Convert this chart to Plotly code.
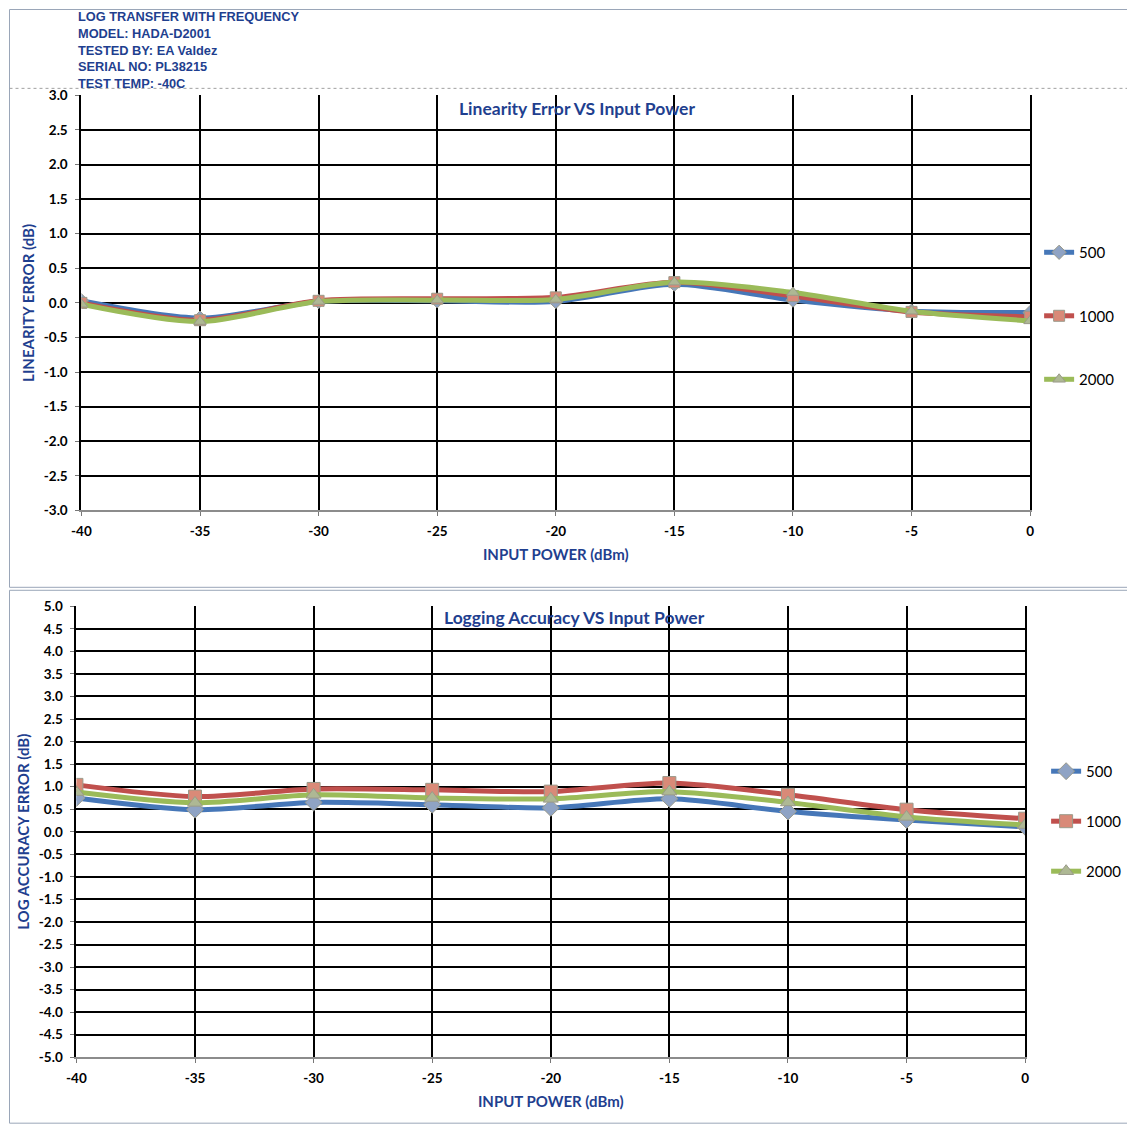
import plotly.graph_objects as go

# ---- data ----
input_power = [-40, -35, -30, -25, -20, -15, -10, -5, 0]
x_ticks = [-40, -35, -30, -25, -20, -15, -10, -5, 0]
lin_y_ticks = [3.0, 2.5, 2.0, 1.5, 1.0, 0.5, 0.0, -0.5, -1.0, -1.5, -2.0, -2.5, -3.0]
log_y_ticks = [5.0, 4.5, 4.0, 3.5, 3.0, 2.5, 2.0, 1.5, 1.0, 0.5, 0.0, -0.5, -1.0, -1.5,
               -2.0, -2.5, -3.0, -3.5, -4.0, -4.5, -5.0]

lin_500 = [0.03, -0.22, 0.02, 0.03, 0.02, 0.27, 0.04, -0.12, -0.14]
lin_1000 = [0.00, -0.25, 0.03, 0.06, 0.08, 0.30, 0.10, -0.13, -0.20]
lin_2000 = [-0.02, -0.27, 0.02, 0.04, 0.05, 0.30, 0.15, -0.12, -0.26]

log_500 = [0.75, 0.49, 0.65, 0.60, 0.53, 0.73, 0.45, 0.26, 0.11]
log_1000 = [1.04, 0.78, 0.95, 0.93, 0.89, 1.08, 0.82, 0.49, 0.29]
log_2000 = [0.88, 0.64, 0.82, 0.75, 0.73, 0.89, 0.65, 0.33, 0.15]

series_names = ["500", "1000", "2000"]
header_lines = ["LOG TRANSFER WITH FREQUENCY", "MODEL: HADA-D2001", "TESTED BY: EA Valdez",
                "SERIAL NO: PL38215", "TEST TEMP: -40C"]

W, H = 1135, 1137
# map target picture coordinates to paper fractions (empirical page offset/scale)
AX, SX = 16.5, 0.989
AY, SY = 14.5, 0.988
def px(t): return ((t - AX) / SX) / W
def py(t): return 1 - ((t - AY) / SY) / H

line_colors = ["#4677B8", "#C0504D", "#9BBB59"]
marker_colors = ["#8FA3C4", "#D98A78", "#AEB894"]
marker_symbols = ["diamond", "square", "triangle-up"]

BLUE_TXT = "#1F3F8F"
fig = go.Figure()

for i, (name, ys) in enumerate(zip(series_names, [lin_500, lin_1000, lin_2000])):
    fig.add_trace(go.Scatter(
        x=input_power, y=ys, name=name, mode="lines+markers",
        line=dict(color=line_colors[i], width=5, shape="spline", smoothing=0.8),
        marker=dict(symbol=marker_symbols[i], size=11, color=marker_colors[i],
                    line=dict(color="#9A9A8A", width=1)),
        xaxis="x", yaxis="y", legend="legend", legendgroup="a" + name))

for i, (name, ys) in enumerate(zip(series_names, [log_500, log_1000, log_2000])):
    fig.add_trace(go.Scatter(
        x=input_power, y=ys, name=name, mode="lines+markers",
        line=dict(color=line_colors[i], width=5, shape="spline", smoothing=0.8),
        marker=dict(symbol=marker_symbols[i], size=13, color=marker_colors[i],
                    line=dict(color="#9A9A8A", width=1)),
        xaxis="x2", yaxis="y2", legend="legend2", legendgroup="b" + name))

tickfont = dict(family="Lato, Open Sans", size=13.5, color="black", weight="bold")
titlefont = dict(family="Lato, Open Sans", size=15, color=BLUE_TXT, weight="bold")

def fmt(v):
    return f"{v:.1f}"

def xaxis(domain, anchor):
    return dict(domain=domain, anchor=anchor, range=[-40, 0], tickvals=x_ticks,
                ticktext=[str(v) for v in x_ticks],
                showgrid=True, gridcolor="black", gridwidth=2, zeroline=False,
                showline=True, linecolor="#8C8C8C", linewidth=1.5, mirror=False,
                ticks="outside", ticklen=4, tickcolor="#777", tickfont=tickfont,
                ticklabelstandoff=4,
                title=dict(text="INPUT POWER (dBm)", font=titlefont, standoff=11))

def yaxis(domain, anchor, rng, ticks_list, title, standoff):
    return dict(domain=domain, anchor=anchor, range=rng, tickvals=ticks_list,
                ticktext=[fmt(v) for v in ticks_list],
                showgrid=True, gridcolor="black", gridwidth=2, zeroline=False,
                showline=True, linecolor="black", linewidth=2, mirror=True,
                ticks="outside", ticklen=4, tickcolor="#777", tickfont=tickfont,
                ticklabelstandoff=5,
                title=dict(text=title, font=titlefont, standoff=standoff))

annotations = []
for k, t in enumerate(header_lines):
    annotations.append(dict(text=t, x=px(75), y=py(15 + 16.8 * k), xref="paper", yref="paper",
                            xanchor="left", yanchor="middle", showarrow=False,
                            font=dict(family="Liberation Sans, Arial", size=12.8, color=BLUE_TXT, weight="bold")))
annotations.append(dict(text="Linearity Error VS Input Power", x=px(576), y=py(107), xref="paper", yref="paper",
                        showarrow=False, xanchor="center", yanchor="middle",
                        font=dict(family="Lato, Open Sans", size=17.5, color=BLUE_TXT, weight="bold")))
annotations.append(dict(text="Logging Accuracy VS Input Power", x=px(574), y=py(617), xref="paper", yref="paper",
                        showarrow=False, xanchor="center", yanchor="middle",
                        font=dict(family="Lato, Open Sans", size=17.5, color=BLUE_TXT, weight="bold")))

shapes = [
    dict(type="rect", xref="paper", yref="paper", x0=px(8), x1=px(1140), y0=py(8), y1=py(587),
         line=dict(color="#9AA6B8", width=1), layer="below"),
    dict(type="line", xref="paper", yref="paper", x0=px(8), x1=px(1140), y0=py(87), y1=py(87),
         line=dict(color="#A0A0A0", width=1, dash="dot"), layer="below"),
    dict(type="rect", xref="paper", yref="paper", x0=px(8), x1=px(1140), y0=py(590), y1=py(1124),
         line=dict(color="#9AA6B8", width=1), layer="below"),
]

legend_font = dict(family="Lato, Open Sans", size=15, color="black")
fig.update_layout(
    width=W, height=H, margin=dict(l=0, r=0, t=0, b=0),
    paper_bgcolor="white", plot_bgcolor="white",
    xaxis=xaxis([px(80), px(1030)], "y"),
    yaxis=yaxis([py(510), py(94)], "x", [-3, 3], lin_y_ticks, "LINEARITY ERROR (dB)", 6),
    xaxis2=xaxis([px(75), px(1025)], "y2"),
    yaxis2=yaxis([py(1058), py(606)], "x2", [-5, 5], log_y_ticks, "LOG ACCURACY ERROR (dB)", 6),
    legend=dict(x=px(1039), y=py(235), xanchor="left", yanchor="top", font=legend_font,
                tracegroupgap=41, bgcolor="rgba(0,0,0,0)", itemwidth=30),
    legend2=dict(x=px(1046), y=py(755), xanchor="left", yanchor="top", font=legend_font,
                 tracegroupgap=27.5, bgcolor="rgba(0,0,0,0)", itemwidth=30),
    annotations=annotations, shapes=shapes,
)

fig.write_html("out.html")
